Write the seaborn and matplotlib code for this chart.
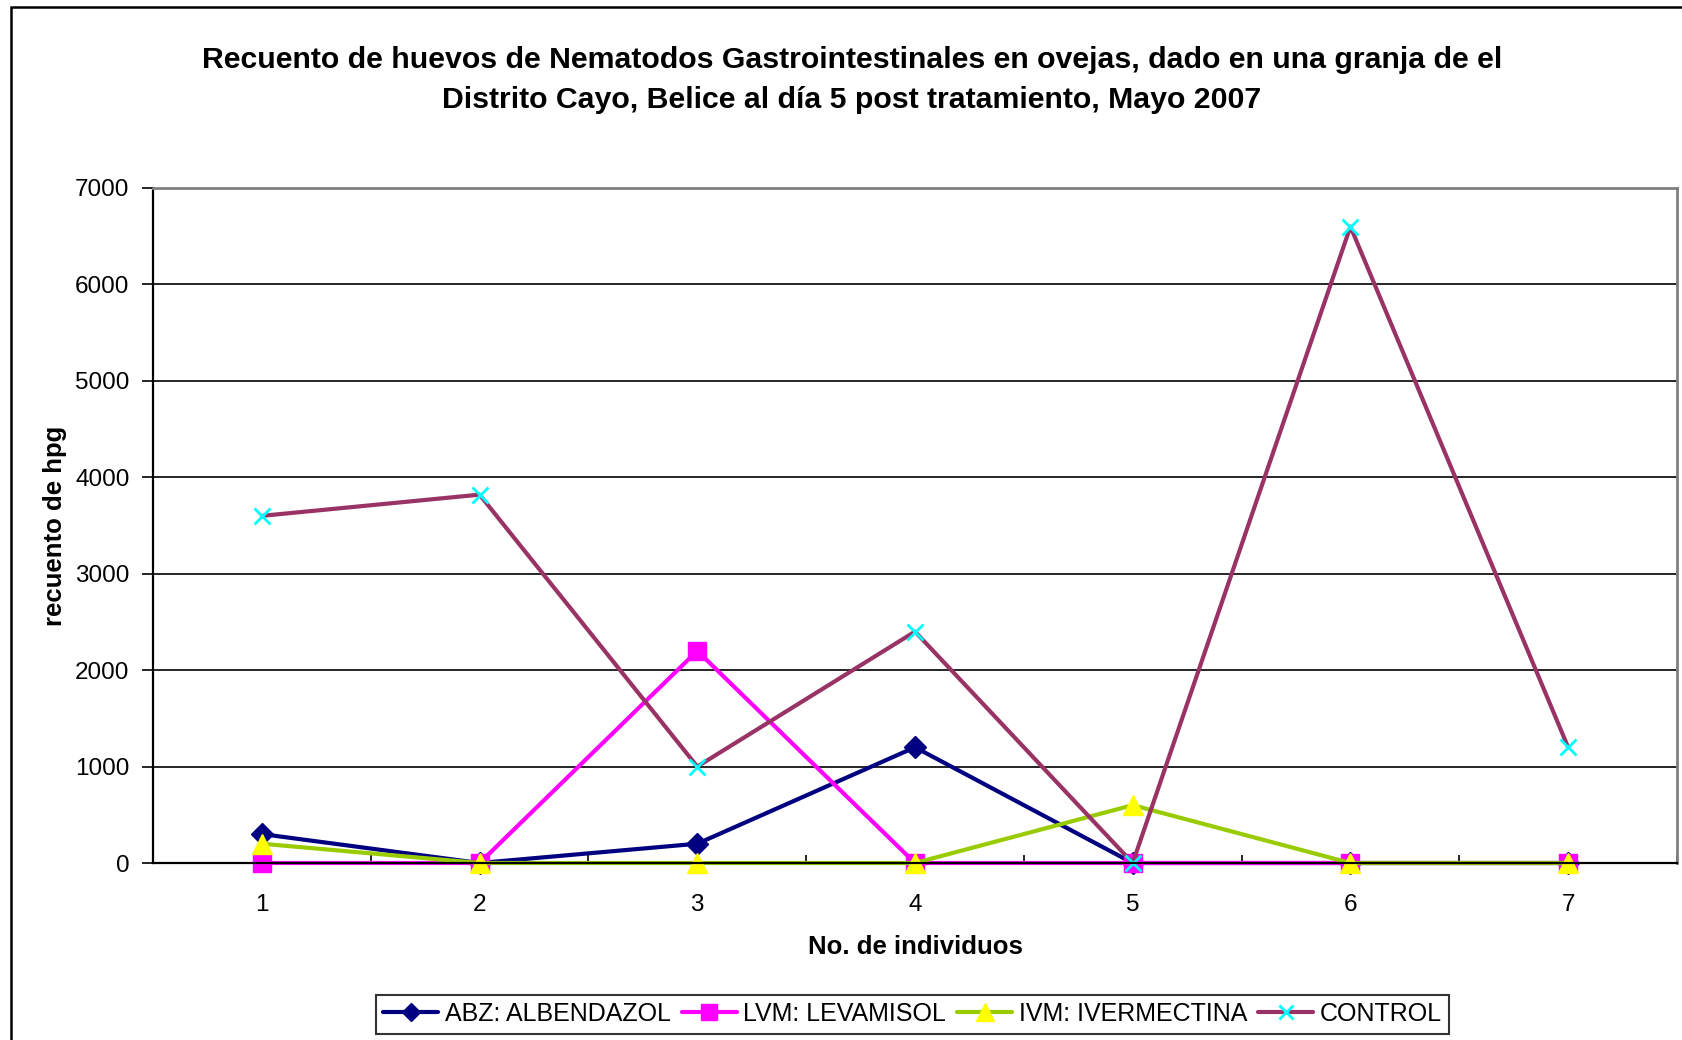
import matplotlib
matplotlib.use("Agg")
import matplotlib.pyplot as plt
import seaborn as sns
import numpy as np
from matplotlib.patches import Rectangle
from matplotlib.ticker import FixedLocator

individuos = [1, 2, 3, 4, 5, 6, 7]
abz = [300, 0, 200, 1200, 0, 0, 0]
lvm = [0, 0, 2200, 0, 0, 0, 0]
ivm = [200, 0, 0, 0, 600, 0, 0]
control = [3600, 3820, 1000, 2400, 0, 6600, 1200]
series_names = ["ABZ: ALBENDAZOL", "LVM: LEVAMISOL", "IVM: IVERMECTINA", "CONTROL"]
y_ticks = [0, 1000, 2000, 3000, 4000, 5000, 6000, 7000]

title = ("Recuento de huevos de Nematodos Gastrointestinales en ovejas, dado en una granja de el\n"
         "Distrito Cayo, Belice al día 5 post tratamiento, Mayo 2007")
xlabel = "No. de individuos"
ylabel = "recuento de hpg"

sns.set_theme(style="white")
plt.rcParams["font.family"] = ["Liberation Sans", "DejaVu Sans"]
plt.rcParams["text.color"] = "black"
plt.rcParams["axes.labelcolor"] = "black"
plt.rcParams["xtick.color"] = "black"
plt.rcParams["ytick.color"] = "black"

W, H = 1682, 1040
fig = plt.figure(figsize=(W / 100, H / 100), dpi=100)
ax = fig.add_axes([153 / W, 1 - 863 / H, (1677 - 153) / W, (863 - 188) / H])

styles = [
    dict(color="#000080", marker="D", markersize=11, markerfacecolor="#000080",
         markeredgecolor="#000080", markeredgewidth=1),
    dict(color="#FF00FF", marker="s", markersize=13, markerfacecolor="#FF00FF",
         markeredgecolor="#FF00FF", markeredgewidth=1),
    dict(color="#99CC00", marker="^", markersize=15, markerfacecolor="#FFFF00",
         markeredgecolor="#FFFF00", markeredgewidth=1),
    dict(color="#993366", marker="x", markersize=12, markerfacecolor="#00FFFF",
         markeredgecolor="#00FFFF", markeredgewidth=2),
]
for vals, name, st in zip([abz, lvm, ivm, control], series_names, styles):
    sns.lineplot(x=individuos, y=vals, ax=ax, label=name, linewidth=3,
                 errorbar=None, clip_on=False, **st)

ax.set_xlim(0.5, 7.5)
ax.set_ylim(0, 7000)
ax.set_yticks(y_ticks)
ax.set_yticklabels([str(v) for v in y_ticks])
ax.set_xticks(individuos)
ax.set_xticklabels([str(v) for v in individuos])
ax.xaxis.set_minor_locator(FixedLocator(np.arange(0.5, 8.0, 1.0)))
ax.tick_params(axis="x", which="major", length=0, pad=22, labelsize=17.5, colors="black")
ax.tick_params(axis="x", which="minor", direction="in", length=6, width=1.2,
               color="black", bottom=True)
ax.tick_params(axis="y", which="major", direction="out", length=8, width=1.2,
               left=True, pad=9, labelsize=17.5, colors="black")

ax.grid(axis="y", color="black", linewidth=1.2)
ax.grid(axis="x", visible=False)
ax.set_axisbelow(True)
for s in ["left", "bottom"]:
    ax.spines[s].set_color("black")
    ax.spines[s].set_linewidth(1.6)
for s in ["top", "right"]:
    ax.spines[s].set_color("#808080")
    ax.spines[s].set_linewidth(2)

ax.set_xlabel(xlabel, fontsize=18.5, fontweight="bold", labelpad=14, color="black")
ax.set_ylabel(ylabel, fontsize=18.5, fontweight="bold", labelpad=6, color="black")

fig.text(852 / W, 1 - 80 / H, title, ha="center", va="center", fontsize=21.8,
         fontweight="bold", linespacing=1.58, color="black")

ax.get_legend().remove()
handles, labels = ax.get_legend_handles_labels()
leg = fig.legend(handles, labels, loc="center", ncol=4,
                 bbox_to_anchor=(912.5 / W, 1 - 1014 / H), bbox_transform=fig.transFigure,
                 frameon=True, fancybox=False, edgecolor="black", fontsize=18,
                 handlelength=2.2, handletextpad=0.25, columnspacing=0.45,
                 borderpad=0.3, borderaxespad=0, labelcolor="black")
leg.get_frame().set_linewidth(1.5)
for h in leg.legend_handles:
    h.set_markersize(h.get_markersize() * 0.85)

# outer chart border (left and top visible)
fig.patches.append(Rectangle((11 / W, -0.2), 1.2, 1 - 7 / H + 0.2, transform=fig.transFigure,
                             fill=False, edgecolor="black", linewidth=1.8))

fig.savefig("out.png", dpi=100)
